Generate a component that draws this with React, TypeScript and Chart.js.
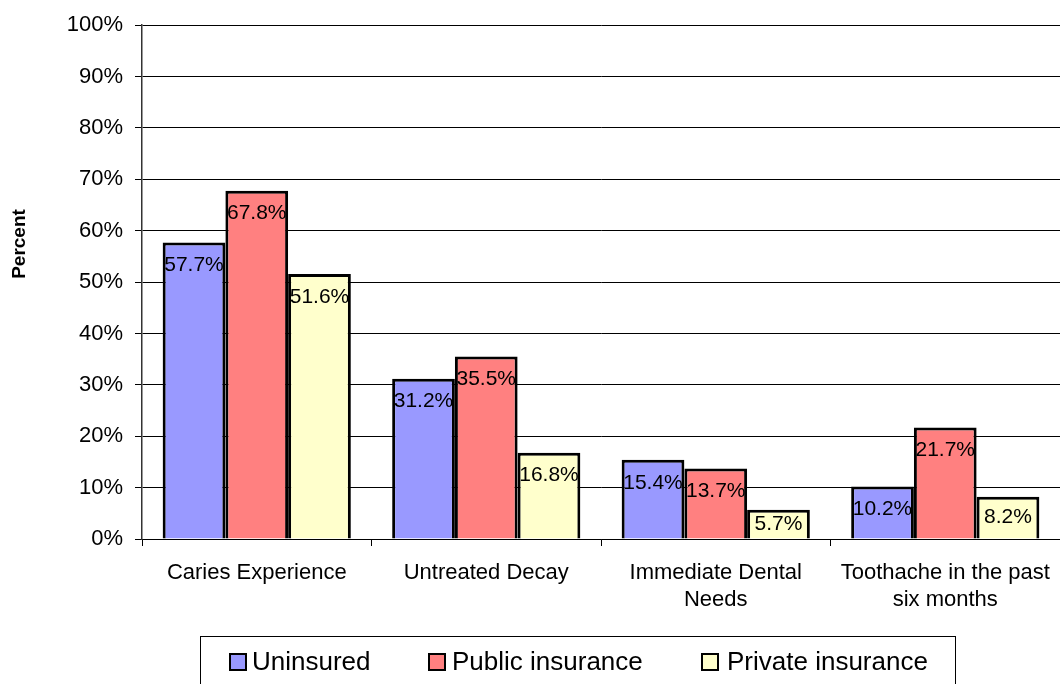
import React, { useEffect, useRef } from 'react';
import { Chart, registerables } from 'chart.js';

Chart.register(...registerables);

const categories: string[][] = [
  ['Caries Experience'],
  ['Untreated Decay'],
  ['Immediate Dental', 'Needs'],
  ['Toothache in the past', 'six months'],
];
const seriesNames = ['Uninsured', 'Public insurance', 'Private insurance'];
const uninsured = [57.7, 31.2, 15.4, 10.2];
const publicInsurance = [67.8, 35.5, 13.7, 21.7];
const privateInsurance = [51.6, 16.8, 5.7, 8.2];
const seriesColors = ['#9999FF', '#FF8080', '#FFFFCC'];
const yAxisTitle = 'Percent';

const FONT = '"Liberation Sans", Arial, sans-serif';

const barLabelPlugin = {
  id: 'barLabels',
  afterDatasetsDraw(chart: any) {
    const ctx = chart.ctx;
    ctx.save();
    ctx.font = `21px ${FONT}`;
    ctx.fillStyle = '#000';
    ctx.textAlign = 'center';
    ctx.textBaseline = 'middle';
    chart.data.datasets.forEach((ds: any, i: number) => {
      const meta = chart.getDatasetMeta(i);
      meta.data.forEach((bar: any, j: number) => {
        const { x, y, base } = bar.getProps(['x', 'y', 'base'], true);
        const cy = Math.min(y + 23, (y + base) / 2);
        ctx.fillText(Number(ds.data[j]).toFixed(1) + '%', x, cy);
      });
    });
    ctx.restore();
  },
};

const decorPlugin = {
  id: 'decor',
  afterDraw(chart: any) {
    const ctx = chart.ctx;
    ctx.save();
    // y axis title
    ctx.translate(20, 244);
    ctx.rotate(-Math.PI / 2);
    ctx.font = `bold 19px ${FONT}`;
    ctx.fillStyle = '#000';
    ctx.textAlign = 'center';
    ctx.textBaseline = 'middle';
    ctx.fillText(yAxisTitle, 0, 0);
    ctx.restore();

    // legend box
    ctx.save();
    ctx.strokeStyle = '#000';
    ctx.lineWidth = 1;
    ctx.strokeRect(200.5, 636.5, 755, 80);
    const squares = [229, 428, 701];
    const texts = [252, 452, 727];
    ctx.font = `26px ${FONT}`;
    ctx.textAlign = 'left';
    ctx.textBaseline = 'middle';
    seriesNames.forEach((name, i) => {
      ctx.fillStyle = seriesColors[i];
      ctx.fillRect(squares[i], 653, 18, 18);
      ctx.lineWidth = 2;
      ctx.strokeStyle = '#000';
      ctx.strokeRect(squares[i] + 1, 654, 16, 16);
      ctx.fillStyle = '#000';
      ctx.fillText(name, texts[i], 663);
    });
    ctx.restore();
  },
};

export default function App() {
  const ref = useRef<HTMLCanvasElement | null>(null);
  useEffect(() => {
    if (!ref.current) return;
    const series = [uninsured, publicInsurance, privateInsurance];
    const chart = new Chart(ref.current, {
      type: 'bar',
      data: {
        labels: categories,
        datasets: series.map((d, i) => ({
          label: seriesNames[i],
          data: d,
          backgroundColor: seriesColors[i],
          borderColor: '#000',
          borderWidth: 3,
          categoryPercentage: 0.82,
          barPercentage: 1,
        })),
      },
      options: {
        responsive: false,
        animation: false,
        devicePixelRatio: 1,
        layout: { padding: { top: 22, left: 0, right: 0, bottom: 0 } },
        plugins: {
          legend: { display: false },
          tooltip: { enabled: false },
        },
        scales: {
          x: {
            grid: { drawOnChartArea: false, color: '#000', tickLength: 7, offset: true },
            border: { color: '#000', width: 1 },
            ticks: {
              font: { size: 22, family: FONT },
              color: '#000',
              padding: 14,
              maxRotation: 0,
              autoSkip: false,
            },
            afterFit: (s: any) => {
              s.height = 145;
              s.paddingRight = 0;
              s.paddingLeft = 0;
            },
          },
          y: {
            min: 0,
            max: 100,
            ticks: {
              stepSize: 10,
              callback: (v: any) => v + '%',
              font: { size: 22, family: FONT },
              color: '#000',
              padding: 12,
            },
            grid: { color: '#000', lineWidth: 1, tickLength: 7 },
            border: { color: '#333', width: 1.5 },
            afterFit: (s: any) => {
              s.width = 142;
            },
          },
        },
      },
      plugins: [barLabelPlugin, decorPlugin],
    });
    return () => chart.destroy();
  }, []);
  return (
    <div style={{ position: 'absolute', left: 0, top: 0, width: 1060, height: 684, background: '#fff' }}>
      <canvas ref={ref} width={1060} height={684} style={{ display: 'block' }} />
    </div>
  );
}
